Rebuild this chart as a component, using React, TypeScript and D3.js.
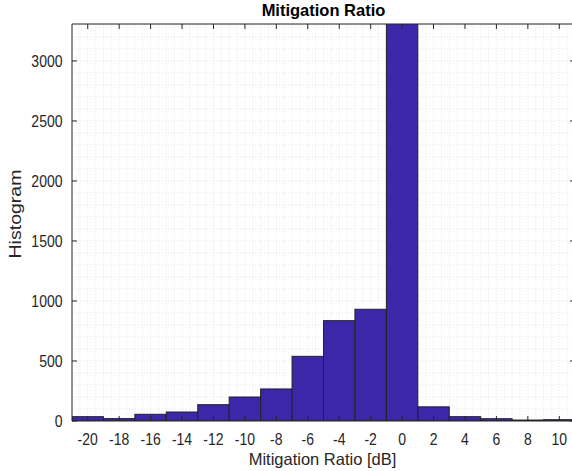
import React from "react";
import * as d3 from "d3";

const binCenters = [-20, -18, -16, -14, -12, -10, -8, -6, -4, -2, 0, 2, 4, 6, 8, 10];
const counts = [36, 20, 56, 75, 136, 200, 267, 539, 836, 931, 3600, 118, 36, 19, 8, 11];
const xTicks = [-20, -18, -16, -14, -12, -10, -8, -6, -4, -2, 0, 2, 4, 6, 8, 10];
const yTicks = [0, 500, 1000, 1500, 2000, 2500, 3000];
const binWidth = 2;

const W = 572;
const H = 471;
const M = { left: 72, right: 575, top: 24, bottom: 421 };

export default function App() {
  const x = d3.scaleLinear().domain([-21, 11]).range([M.left, M.right]);
  const y = d3.scaleLinear().domain([0, 3308]).range([M.bottom, M.top]);
  const xMinor = d3.range(-21, 11.001, 0.5);
  const yMinor = d3.range(0, 3308, 100);
  const font = "Liberation Sans, Arial, sans-serif";
  const txt = "#262626";
  const axisCol = "#262626";
  const sy = 1.15;
  return (
    <svg width={W} height={H} style={{ position: "absolute", left: 0, top: 0 }} fontFamily={font}>
      <defs>
        <clipPath id="plot">
          <rect x={M.left} y={M.top} width={M.right - M.left} height={M.bottom - M.top} />
        </clipPath>
      </defs>
      <rect x={0} y={0} width={W} height={H} fill="#fff" />
      <g clipPath="url(#plot)">
        {xMinor.map((v, i) => (
          <line key={"xm" + i} x1={x(v)} x2={x(v)} y1={M.top} y2={M.bottom} stroke="#d6d6d6" strokeWidth={0.6} strokeDasharray="1,2" />
        ))}
        {yMinor.map((v, i) => (
          <line key={"ym" + i} x1={M.left} x2={M.right} y1={y(v)} y2={y(v)} stroke="#d6d6d6" strokeWidth={0.6} strokeDasharray="1,2" />
        ))}
        {binCenters.map((c, i) => (
          <rect
            key={"b" + i}
            x={x(c - binWidth / 2)}
            y={y(counts[i])}
            width={x(c + binWidth / 2) - x(c - binWidth / 2)}
            height={y(0) - y(counts[i])}
            fill="#3b27a8"
            stroke="#222"
            strokeWidth={1}
          />
        ))}
      </g>
      <line x1={M.left} x2={M.right} y1={M.bottom} y2={M.bottom} stroke={axisCol} strokeWidth={1} />
      <line x1={M.left} x2={M.right} y1={M.top} y2={M.top} stroke={axisCol} strokeWidth={1} />
      <line x1={M.left} x2={M.left} y1={M.top} y2={M.bottom} stroke={axisCol} strokeWidth={1} />
      <line x1={M.right} x2={M.right} y1={M.top} y2={M.bottom} stroke={axisCol} strokeWidth={1} />
      {xTicks.map((t) => (
        <g key={"xt" + t}>
          <line x1={x(t)} x2={x(t)} y1={M.bottom} y2={M.bottom - 5} stroke={axisCol} />
          <line x1={x(t)} x2={x(t)} y1={M.top} y2={M.top + 5} stroke={axisCol} />
          <text transform={`translate(${x(t)}, ${M.bottom + 23.5}) scale(1, ${sy})`} textAnchor="middle" fontSize={14} fill={txt}>
            {t}
          </text>
        </g>
      ))}
      {yTicks.map((t) => (
        <g key={"yt" + t}>
          <line x1={M.left} x2={M.left + 5} y1={y(t)} y2={y(t)} stroke={axisCol} />
          <line x1={M.right} x2={M.right - 5} y1={y(t)} y2={y(t)} stroke={axisCol} />
          <text transform={`translate(${M.left - 9.5}, ${y(t) + 6}) scale(1, ${sy})`} textAnchor="end" fontSize={14} fill={txt}>
            {t}
          </text>
        </g>
      ))}
      <text x={(M.left + M.right) / 2} y={16} textAnchor="middle" fontSize={16.5} fontWeight="bold" fill="#000">
        Mitigation Ratio
      </text>
      <text x={(M.left + M.right) / 2 - 1} y={465} textAnchor="middle" fontSize={16.5} fill={txt}>
        Mitigation Ratio [dB]
      </text>
      <text transform={`translate(21, 214) rotate(-90) scale(${sy}, 1)`} textAnchor="middle" fontSize={17} fill={txt}>
        Histogram
      </text>
    </svg>
  );
}
